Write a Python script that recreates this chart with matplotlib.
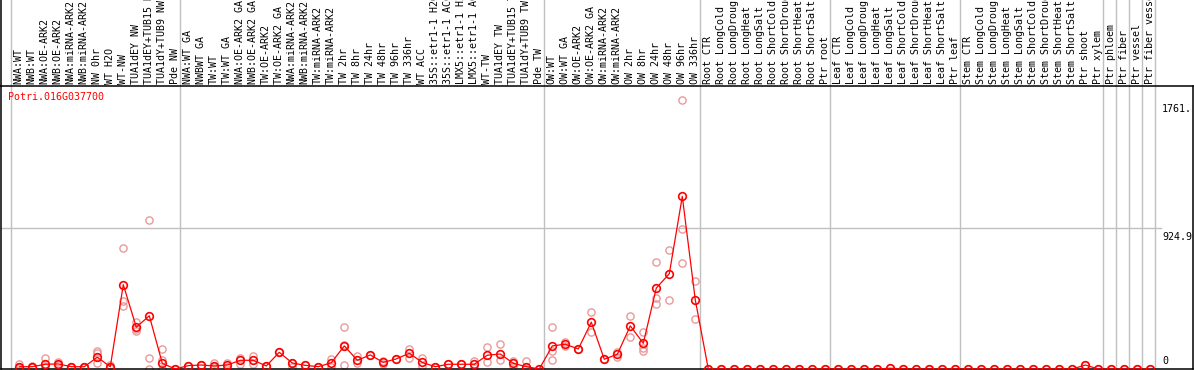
import matplotlib.pyplot as plt
from matplotlib.transforms import blended_transform_factory

# Названия образцов (подписи колонок)
samples = [
    "NWA:WT", "NWB:WT", "NWA:OE-ARK2", "NWB:OE-ARK2", "NWA:miRNA-ARK2", "NWB:miRNA-ARK2",
    "NW 0hr", "WT H2O", "WT-NW", "TUA1dEY NW", "TUA1dEY+TUB15 NW", "TUA1dY+TUB9 NW", "Pde NW",
    "NWA:WT GA", "NWBWT GA", "TW:WT", "TW:WT GA", "NWA:OE-ARK2 GA", "NWB:OE-ARK2 GA",
    "TW:OE-ARK2", "TW:OE-ARK2 GA", "NWA:miRNA-ARK2", "NWB:miRNA-ARK2", "TW:miRNA-ARK2",
    "TW:miRNA-ARK2", "TW 2hr", "TW 8hr", "TW 24hr", "TW 48hr", "TW 96hr", "TW 336hr", "WT ACC",
    "35S::etr1-1 H2O", "35S::etr1-1 ACC", "LMX5::etr1-1 H2O", "LMX5::etr1-1 ACC", "WT-TW",
    "TUA1dEY TW", "TUA1dEY+TUB15 TW", "TUA1dY+TUB9 TW", "Pde TW",
    "OW:WT", "OW:WT GA", "OW:OE-ARK2", "OW:OE-ARK2 GA", "OW:miRNA-ARK2", "OW:miRNA-ARK2",
    "OW 2hr", "OW 8hr", "OW 24hr", "OW 48hr", "OW 96hr", "OW 336hr",
    "Root CTR", "Root LongCold", "Root LongDrought", "Root LongHeat", "Root LongSalt",
    "Root ShortCold", "Root ShortDrought", "Root ShortHeat", "Root ShortSalt", "Ptr root",
    "Leaf CTR", "Leaf LongCold", "Leaf LongDrought", "Leaf LongHeat", "Leaf LongSalt",
    "Leaf ShortCold", "Leaf ShortDrought", "Leaf ShortHeat", "Leaf ShortSalt", "Ptr leaf",
    "Stem CTR", "Stem LongCold", "Stem LongDrought", "Stem LongHeat", "Stem LongSalt",
    "Stem ShortCold", "Stem ShortDrought", "Stem ShortHeat", "Stem ShortSalt", "Ptr shoot",
    "Ptr xylem", "Ptr phloem", "Ptr fiber", "Ptr vessel", "Ptr fiber vessel",
]

# Начало каждой группы образцов (индексы)
group_starts = [0, 13, 41, 53, 63, 73, 84, 85, 86, 87, 88]

# Средние значения экспрессии
means = [
    15, 15, 31, 33, 15, 15, 77, 15, 551, 273, 348, 37, 0,
    22, 26, 20, 26, 57, 57, 20, 109, 39, 24, 15, 41, 151, 57, 92, 43, 66, 103, 43,
    15, 31, 31, 31, 90, 98, 37, 15, 0,
    151, 162, 131, 306, 64, 96, 282, 168, 529, 623, 1128, 451,
    0, 0, 0, 0, 0, 0, 0, 0, 0, 0,
    0, 0, 0, 0, 5, 0, 0, 0, 0, 0,
    0, 0, 0, 0, 0, 0, 0, 0, 0, 26, 0,
    0, 0, 0, 0,
]

# Значения повторностей
replicates = [
    [33, 10, 5], [15, 12, 18], [70, 10, 12], [45, 25, 28], [15, 14, 16], [15, 14, 16],
    [118, 105, 41], [25, 5, 15], [792, 442, 413], [310, 249, 260], [975, 70, 0],
    [131, 59, 0], [0],
    [22], [26], [37, 10], [41, 15], [74, 33], [85, 33], [20], [109], [39, 15], [24], [15],
    [63, 15], [273, 26, 155], [87, 37], [92], [55, 30], [66], [131, 70], [74, 22],
    [15], [31], [31], [52, 10], [144, 46], [164, 57], [54, 20], [52, 0], [0],
    [273, 120, 59], [179, 150], [131], [372, 241], [64], [114, 80], [346, 210],
    [241, 140, 118], [702, 464, 426], [781, 453], [1761, 916, 693], [577, 326],
] + [[m] for m in means[53:]]

y_max = 1849.8
y_labels = ["1761.", "924.9", "0"]
y_label_values = [1761, 924.9, 0]

plt.rcParams['font.family'] = 'DejaVu Sans Mono'
fig = plt.figure(figsize=(11.94, 3.70), dpi=100)
ax = fig.add_axes([1 / 1194, 1 / 370, 1192 / 1194, 283 / 370])
ax.set_xlim((1 - 19.3) / 13, (1193 - 19.3) / 13)
ax.set_ylim(0, y_max)
ax.set_xticks([])
ax.set_yticks([])
for side in ['left', 'right', 'bottom', 'top']:
    ax.spines[side].set_color('black')
    ax.spines[side].set_linewidth(1.1)

# Вертикальные линии групп (проходят и через шапку)
top_frac = 369 / 283
for g in group_starts:
    ax.plot([g - 0.654, g - 0.654], [0, top_frac], transform=blended_transform_factory(ax.transData, ax.transAxes),
            color='#c0c0c0', lw=1, clip_on=False, zorder=1)
ax.plot([0, 0], [1, top_frac], transform=ax.transAxes, color='black', lw=1.1, clip_on=False)

# Горизонтальная линия сетки
ax.axhline(924.9, xmin=0, xmax=1160 / 1192, color='#c0c0c0', lw=1, zorder=1)

# Подписи образцов в шапке
trans = blended_transform_factory(ax.transData, ax.transAxes)
for i, name in enumerate(samples):
    ax.text(i - 0.05, 1 + 2 / 283, name, transform=trans, rotation=90, ha='center', va='bottom',
            fontsize=7.2, clip_on=False)

# Повторности
for i, reps in enumerate(replicates):
    ax.plot([i] * len(reps), reps, linestyle='none', marker='o', markersize=5.2,
            markerfacecolor='none', markeredgecolor='#e89a9a', markeredgewidth=1, zorder=2)

# Средние
ax.plot(range(len(means)), means, color='red', lw=0.9, marker='o', markersize=5.5,
        markerfacecolor='none', markeredgecolor='red', markeredgewidth=1.2, zorder=3)

# Подписи оси значений
offsets = [-4, -4, 3]
vas = ['top', 'top', 'bottom']
for lab, val, off, va in zip(y_labels, y_label_values, offsets, vas):
    ax.annotate(lab, xy=((1162 - 1) / 1192, val), xycoords=('axes fraction', 'data'),
                xytext=(0, off), textcoords='offset pixels', ha='left', va=va, fontsize=7.2)

# Название гена
ax.annotate("Potri.016G037700", xy=(0, 1), xycoords='axes fraction', xytext=(7, -6),
            textcoords='offset pixels', ha='left', va='top', color='red', fontsize=7.2)

plt.savefig('out.png', dpi=100)
